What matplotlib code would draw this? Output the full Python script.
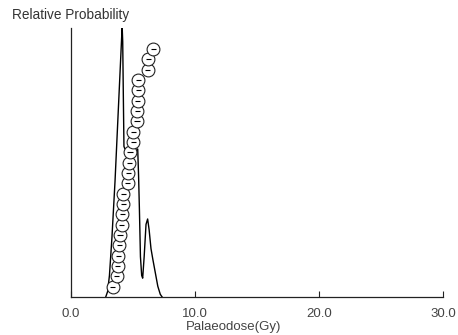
import matplotlib
matplotlib.use("Agg")
import matplotlib.pyplot as plt

plt.rcParams['font.family'] = ['Liberation Sans', 'DejaVu Sans']

# Probability density curve (dose in Gy, relative probability)
curve_dose = [2.8, 2.95, 3.1, 3.3, 3.55, 3.8, 4.0, 4.1, 4.13, 4.17, 4.22, 4.27,
              4.35, 5.0, 5.38, 5.45, 5.52, 5.6, 5.7, 5.78, 5.9, 6.05, 6.18, 6.3,
              6.45, 6.6, 6.8, 7.0, 7.2, 7.35]
curve_prob = [0.0, 0.02, 0.08, 0.22, 0.43, 0.68, 0.88, 0.98, 1.0, 0.95, 0.75, 0.56,
              0.55, 0.55, 0.55, 0.45, 0.32, 0.15, 0.08, 0.07, 0.15, 0.27, 0.29, 0.25,
              0.18, 0.14, 0.09, 0.04, 0.01, 0.0]

# Individual aliquot palaeodoses (sorted), with small errors
aliquot_dose = [3.36, 3.69, 3.77, 3.81, 3.90, 3.95, 4.09, 4.14, 4.22, 4.22,
                4.57, 4.62, 4.70, 4.76, 5.02, 5.02, 5.32, 5.35, 5.38, 5.43,
                5.43, 6.19, 6.23, 6.64]
aliquot_err = [0.22] * len(aliquot_dose)

xticks = [0, 10, 20, 30]
xticklabels = ["0.0", "10.0", "20.0", "30.0"]

fig = plt.figure(figsize=(4.58, 3.35), dpi=100)
ax = fig.add_axes([71/458, 38/335, 372/458, 269/335])
ax.plot(curve_dose, curve_prob, color='black', lw=1.0, zorder=2)
ax.set_xlim(0, 30)
ax.set_ylim(0, 1.0)
ax.set_yticks([])
ax.set_xticks(xticks)
ax.set_xticklabels(xticklabels)
ax.tick_params(axis='x', direction='in', length=4, width=0.8, colors='#222222',
               labelcolor='#444444', labelsize=9.5, pad=8)
for s in ['top', 'right']:
    ax.spines[s].set_visible(False)
for s in ['left', 'bottom']:
    ax.spines[s].set_linewidth(0.9)
    ax.spines[s].set_color('#222222')
ax.set_xlabel("Palaeodose(Gy)", fontsize=9.5, color='#444444', labelpad=0)
ax.xaxis.set_label_coords(0.438, -0.09)

ax2 = ax.twinx()
n = len(aliquot_dose)
ranks = list(range(1, n + 1))
ax2.set_ylim(0, 26.03)
ax2.errorbar(aliquot_dose, ranks, xerr=aliquot_err, fmt='none', ecolor='black',
             elinewidth=0.8, capsize=0, zorder=4)
ax2.scatter(aliquot_dose, ranks, s=85, facecolors='white', edgecolors='#222222',
            linewidths=0.8, zorder=3)
ax2.set_yticks([])
for s in ['top', 'right', 'left', 'bottom']:
    ax2.spines[s].set_visible(False)

fig.text(12/458, 1 - 15/335, "Relative Probability", fontsize=9.8, color='#333333',
         va='center', ha='left')

fig.savefig("out.png", dpi=100)
